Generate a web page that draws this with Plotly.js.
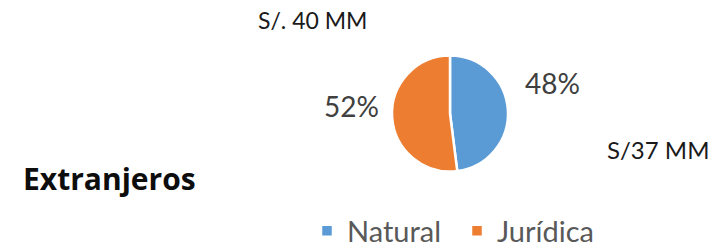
<!DOCTYPE html>
<html>
<head>
<meta charset="utf-8">
<script src="https://cdn.plot.ly/plotly-3.0.1.min.js"></script>
<style>html,body{margin:0;padding:0;background:#fff}#chart{width:725px;height:247px}</style>
</head>
<body>
<div id="chart"></div>
<script>
const categories = ["Natural", "Jurídica"];
const shares = [48, 52];
const sliceColors = ["#5B9BD5", "#ED7D31"];
const percentLabels = ["48%", "52%"];
const amountLabels = ["S/37 MM", "S/. 40 MM"];
const chartTitle = "Extranjeros";

const FONT = "Lato, 'Open Sans', sans-serif";

const trace = {
  type: "pie",
  labels: categories,
  values: shares,
  marker: { colors: sliceColors, line: { color: "#ffffff", width: 2.5 } },
  sort: false,
  direction: "clockwise",
  rotation: 0,
  textinfo: "none",
  hoverinfo: "label+percent",
  domain: { x: [392/725, 508/725], y: [1 - 172/247, 1 - 55/247] }
};

function note(text, px, py, size, color, family) {
  return {
    text: text, x: px/725, y: 1 - py/247, xref: "paper", yref: "paper",
    xanchor: "center", yanchor: "middle", showarrow: false,
    font: { family: family || FONT, size: size, color: color }
  };
}

const layout = {
  width: 725, height: 247,
  margin: { l: 0, r: 0, t: 0, b: 0, autoexpand: false },
  paper_bgcolor: "#ffffff",
  showlegend: true,
  legend: {
    orientation: "h",
    x: 307/725, y: 1 - 231/247, xanchor: "left", yanchor: "middle",
    entrywidth: 105, entrywidthmode: "pixels",
    font: { family: FONT, size: 29, color: "#595959" },
    bgcolor: "rgba(0,0,0,0)"
  },
  annotations: [
    note(percentLabels[0], 552.5, 83, 28, "#404040"),
    note(percentLabels[1], 351.5, 105.5, 28, "#404040"),
    note(amountLabels[1], 312.5, 20.5, 23, "#1a1a1a"),
    note(amountLabels[0], 657.5, 149, 24, "#1a1a1a"),
    note("<b>" + chartTitle + "</b>", 109, 178, 30, "#0d0d0d", "'Open Sans', sans-serif")
  ]
};

Plotly.newPlot("chart", [trace], layout, { displayModeBar: false, staticPlot: true });
</script>
</body>
</html>
